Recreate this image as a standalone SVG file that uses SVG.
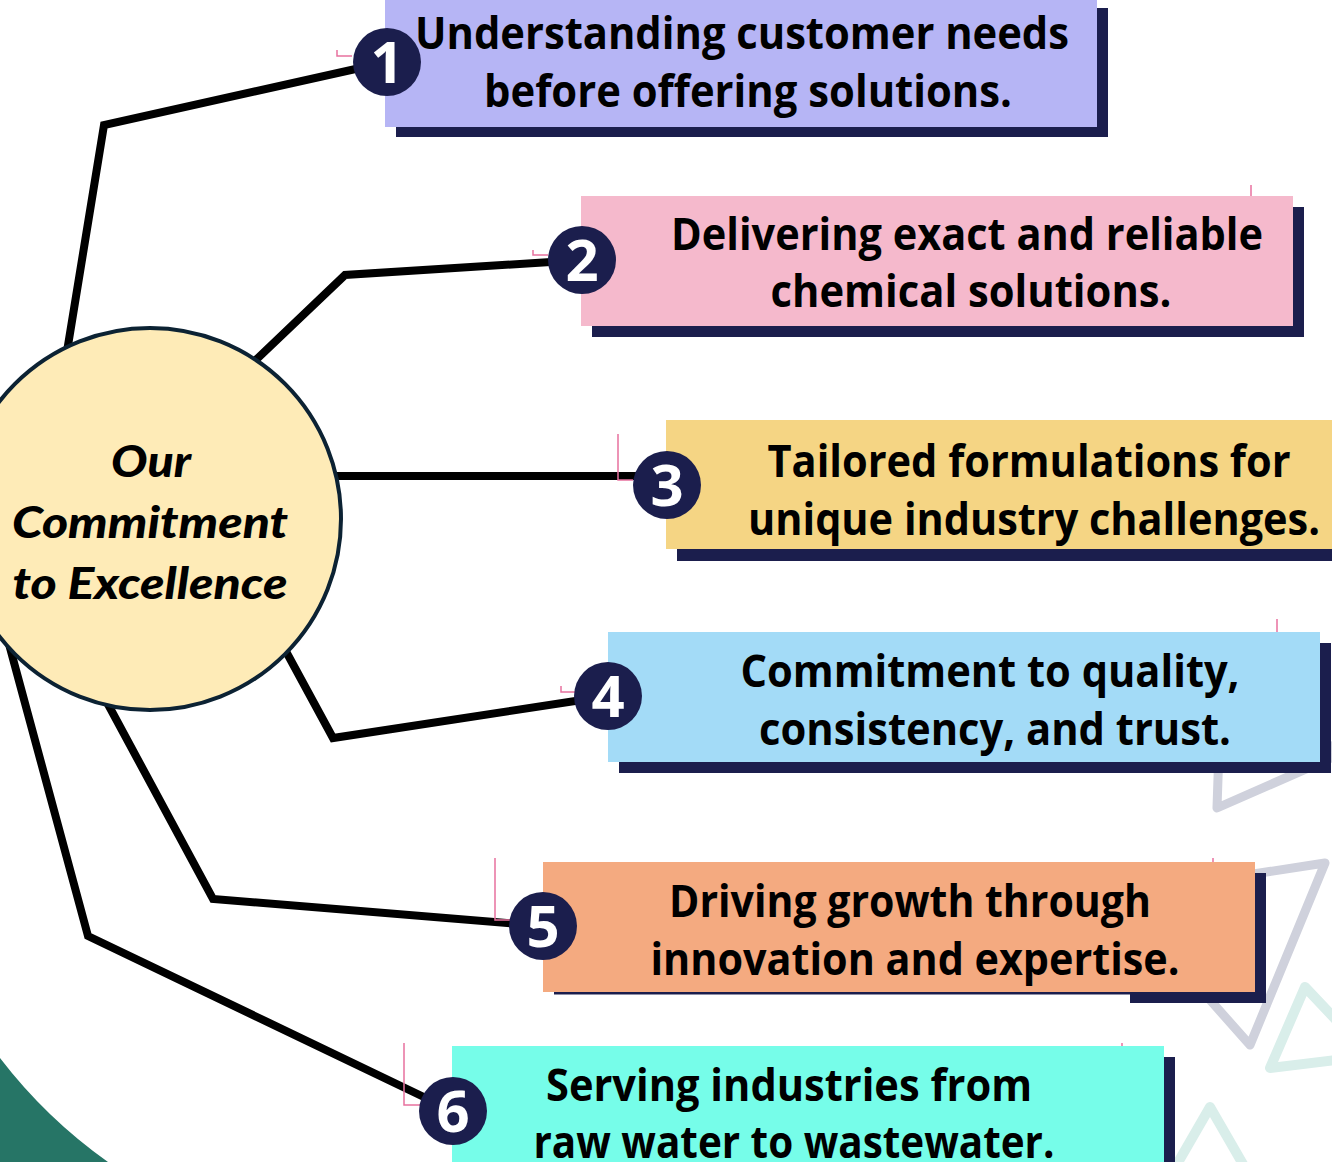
<svg xmlns="http://www.w3.org/2000/svg" width="1332" height="1162" viewBox="0 0 1332 1162">
<style>
.shadow{fill:#1b1e4d}
.num{fill:#1b1e4d}
.numt{fill:#ffffff;font-family:"Open Sans","Liberation Sans",sans-serif;font-weight:700;font-size:58px;text-anchor:middle}
.bt{fill:#000000;font-family:"Open Sans","Liberation Sans",sans-serif;font-weight:700;font-size:44px;text-anchor:middle}
.ct{fill:#000000;font-family:"Lato","Liberation Sans",sans-serif;font-weight:900;font-style:italic;font-size:43px;text-anchor:middle}
.conn{fill:none;stroke:#000000;stroke-width:8;stroke-linejoin:miter}
.pink{fill:none;stroke:#e8719f;stroke-width:1.5}
.tri-g{fill:none;stroke:#cfd1dc;stroke-width:9;stroke-linejoin:round}
.tri-t{fill:none;stroke:#d9eeea;stroke-width:10;stroke-linejoin:round}
</style>
<rect x="0" y="0" width="1332" height="1162" fill="#ffffff"/>
<g id="decor">
<path d="M0,1058 A500,500 0 0 0 108,1162 L0,1162 Z" fill="#267566"/>
<polygon class="tri-g" points="1217,808 1222,660 1340,754"/>
<polygon class="tri-g" points="1325,863 1250,1045 1117,895"/>
<polygon class="tri-t" points="1305,987 1270,1068 1370,1056"/>
<polygon class="tri-t" points="1210,1107 1165,1185 1255,1185"/>
</g>
<g id="connectors">
<polyline class="conn" points="64,370 104,125 387,62"/>
<polyline class="conn" points="240,375 345,275 582,260"/>
<polyline class="conn" points="320,476 666,476"/>
<polyline class="conn" points="276,633 333,738 608,696"/>
<polyline class="conn" points="103,695 213,899 543,926"/>
<polyline class="conn" points="6,633 88,936 453,1111"/>
</g>
<g id="center">
<circle cx="150" cy="519" r="191" fill="#feebb7" stroke="#0c2233" stroke-width="4"/>
<text class="ct" x="151" y="477" textLength="80" lengthAdjust="spacingAndGlyphs">Our</text>
<text class="ct" x="150" y="538" textLength="276" lengthAdjust="spacingAndGlyphs">Commitment</text>
<text class="ct" x="150" y="599" textLength="275" lengthAdjust="spacingAndGlyphs">to Excellence</text>
</g>
<g id="node1">
<rect class="shadow" x="396" y="8" width="712" height="129"/>
<rect x="385" y="-3" width="712" height="130" fill="#b6b5f5"/>
<path class="pink" d="M337,50 V56 H352"/>
<circle class="num" cx="387" cy="62" r="34"/>
<text class="numt" x="387" y="83">1</text>
<text class="bt" x="742" y="49" textLength="654" lengthAdjust="spacingAndGlyphs">Understanding customer needs</text>
<text class="bt" x="748" y="107" textLength="528" lengthAdjust="spacingAndGlyphs">before offering solutions.</text>
</g>
<g id="node2">
<rect class="shadow" x="592" y="207" width="712" height="130"/>
<rect x="581" y="196" width="712" height="130" fill="#f5b9cc"/>
<path class="pink" d="M1251,185 V196"/>
<path class="pink" d="M533,250 V255 H548"/>
<circle class="num" cx="582" cy="260" r="34"/>
<text class="numt" x="582" y="281">2</text>
<text class="bt" x="967" y="250" textLength="592" lengthAdjust="spacingAndGlyphs">Delivering exact and reliable</text>
<text class="bt" x="971" y="307" textLength="401" lengthAdjust="spacingAndGlyphs">chemical solutions.</text>
</g>
<g id="node3">
<rect class="shadow" x="677" y="431" width="680" height="130"/>
<rect x="666" y="420" width="680" height="129" fill="#f5d584"/>
<path class="pink" d="M618,434 V480 H633"/>
<circle class="num" cx="667" cy="485" r="34"/>
<text class="numt" x="667" y="506">3</text>
<text class="bt" x="1029" y="477" textLength="523" lengthAdjust="spacingAndGlyphs">Tailored formulations for</text>
<text class="bt" x="1034" y="535" textLength="572" lengthAdjust="spacingAndGlyphs">unique industry challenges.</text>
</g>
<g id="node4">
<rect class="shadow" x="619" y="643" width="712" height="130"/>
<rect x="608" y="632" width="712" height="130" fill="#a3dbf7"/>
<path class="pink" d="M1277,619 V632"/>
<path class="pink" d="M561,686 V692 H576"/>
<circle class="num" cx="608" cy="696" r="34"/>
<text class="numt" x="608" y="717">4</text>
<text class="bt" x="990" y="687" textLength="499" lengthAdjust="spacingAndGlyphs">Commitment to quality,</text>
<text class="bt" x="995" y="745" textLength="472" lengthAdjust="spacingAndGlyphs">consistency, and trust.</text>
</g>
<g id="node5">
<rect class="shadow" x="554" y="873" width="712" height="130"/>
<rect x="554" y="994.5" width="576" height="9" fill="#ffffff"/>
<rect x="543" y="862" width="712" height="130" fill="#f4aa80"/>
<path class="pink" d="M1213,858 V862"/>
<path class="pink" d="M495,858 V920 H510"/>
<circle class="num" cx="543" cy="926" r="34"/>
<text class="numt" x="543" y="947">5</text>
<text class="bt" x="910" y="917" textLength="482" lengthAdjust="spacingAndGlyphs">Driving growth through</text>
<text class="bt" x="915" y="975" textLength="529" lengthAdjust="spacingAndGlyphs">innovation and expertise.</text>
</g>
<g id="node6">
<rect class="shadow" x="463" y="1057" width="712" height="130"/>
<rect x="452" y="1046" width="712" height="130" fill="#76fde9"/>
<path class="pink" d="M1122,1043 V1046"/>
<path class="pink" d="M404,1043 V1105 H420"/>
<circle class="num" cx="453" cy="1111" r="34"/>
<text class="numt" x="453" y="1132">6</text>
<text class="bt" x="789" y="1101" textLength="486" lengthAdjust="spacingAndGlyphs">Serving industries from</text>
<text class="bt" x="794" y="1158" textLength="521" lengthAdjust="spacingAndGlyphs">raw water to wastewater.</text>
</g>
</svg>
